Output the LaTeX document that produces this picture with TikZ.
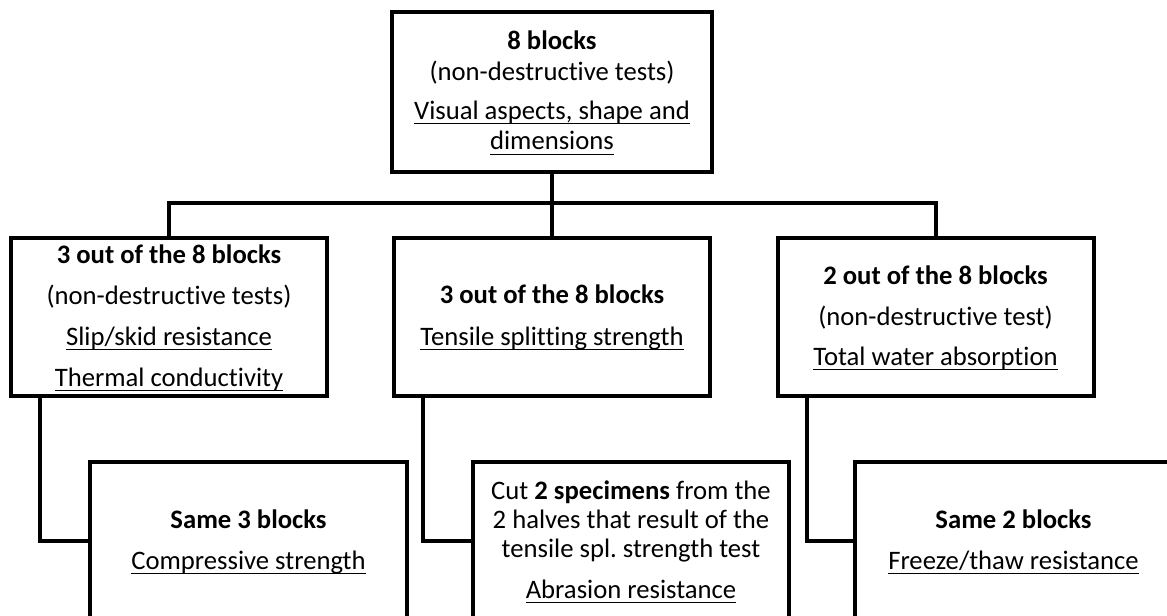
\documentclass[tikz,border=0pt]{standalone}
\usepackage{fontspec}
\setmainfont{Carlito}[Ligatures=NoCommon]
\frenchspacing
\newcommand\myul[1]{\setbox0\hbox{#1}\rlap{\rule[-3.6pt]{\wd0}{0.9pt}}\box0}
\newcommand\tstrut{\rule{0pt}{19pt}}
\newcommand\bstrut{\rule[-7.25pt]{0pt}{7.25pt}}
\begin{document}
\begin{tikzpicture}[x=0.75pt,y=-0.75pt,
  box/.style={draw, line width=3pt, rectangle, inner sep=0pt, minimum width=237pt,
    minimum height=118.5pt, align=center, font=\fontsize{20}{22.5}\selectfont},
  conn/.style={draw, line width=3pt}]
\useasboundingbox (0,0) rectangle (1167,616);
\clip (0,0) rectangle (1167,616);
\node[box, minimum width=240pt, minimum height=120pt] (top) at (552,92)
  {\tstrut\textbf{8 blocks}\\[0.75pt] (non-destructive tests)\\[6.75pt]
   \myul{Visual aspects, shape and}\\[0.25pt] \myul{dimensions}\bstrut};
\node[box] (L) at (169,317)
  {\tstrut\textbf{3 out of the 8 blocks}\\[8.25pt] (non-destructive tests)\\[8.25pt]
   \myul{Slip/skid resistance}\\[8.25pt] \myul{Thermal conductivity}\bstrut};
\node[box] (M) at (552,317)
  {\tstrut\textbf{3 out of the 8 blocks}\\[8.75pt] \myul{Tensile splitting strength}\bstrut};
\node[box] (R) at (935.5,317)
  {\tstrut\textbf{2 out of the 8 blocks}\\[8.25pt] (non-destructive test)\\[7.5pt]
   \myul{Total water absorption}\bstrut};
\node[box, minimum width=237.75pt] (LB) at (248.5,541)
  {\tstrut\textbf{Same 3 blocks}\\[8.25pt] \myul{Compressive strength}\bstrut};
\node[box] (MB) at (631,541)
  {\tstrut Cut \textbf{2 specimens} from the\\[-0.75pt] 2 halves that result of the\\[-0.75pt]
   tensile spl. strength test\\[8.25pt] \myul{Abrasion resistance}\bstrut};
\node[box, minimum width=237.75pt] (RB) at (1013.5,541)
  {\tstrut\textbf{Same 2 blocks}\\[8.25pt] \myul{Freeze/thaw resistance}\bstrut};
\coordinate (jn) at (552,203);
\path[conn] (top.south) -- (M.north);
\path[conn] (L.north) -- (L.north |- jn) -- (R.north |- jn) -- (R.north);
\path[conn] ([xshift=23.25pt]L.south west) |- (LB.west);
\path[conn] ([xshift=23.25pt]M.south west) |- (MB.west);
\path[conn] ([xshift=23.25pt]R.south west) |- (RB.west);
\end{tikzpicture}
\end{document}
